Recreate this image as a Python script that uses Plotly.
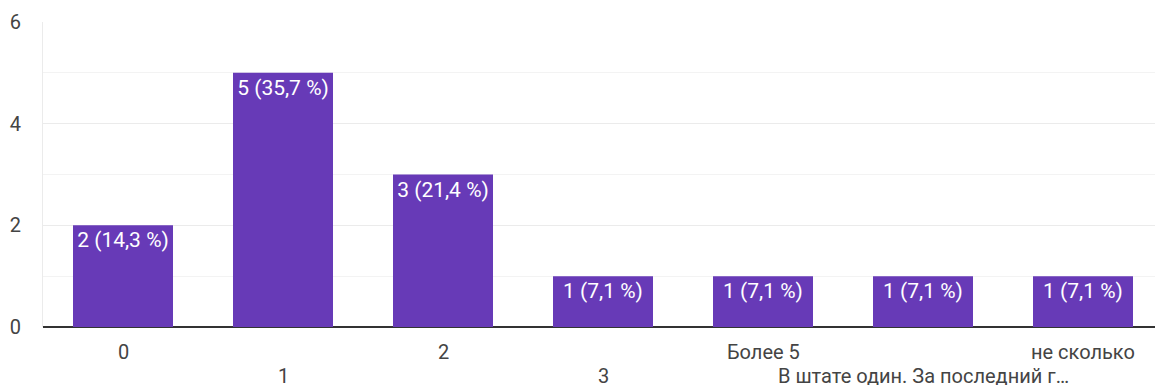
import plotly.graph_objects as go

categorias = ['0', '1', '2', '3', 'Более 5', 'В штате один. За последний г…', 'не сколько']
valores = [2, 5, 3, 1, 1, 1, 1]
porcentajes = ['14,3', '35,7', '21,4', '7,1', '7,1', '7,1', '7,1']
y_ticks = [0, 2, 4, 6]

etiquetas = [f"{v} ({p} %)" for v, p in zip(valores, porcentajes)]
pos = list(range(len(categorias)))

fig = go.Figure()
fig.add_trace(
    go.Bar(
        x=pos,
        y=valores,
        width=0.625,
        marker=dict(color='#673ab7', line=dict(width=0)),
        text=etiquetas,
        textposition='inside',
        insidetextanchor='end',
        textangle=0,
        constraintext='none',
        textfont=dict(color='white', size=21, family='Roboto'),
        hoverinfo='skip',
    )
)

# etiquetas del eje x escalonadas en dos filas
for i, cat in enumerate(categorias):
    fig.add_annotation(
        x=i, y=0, xref='x', yref='y',
        text=cat, showarrow=False,
        yanchor='middle', xanchor='center',
        yshift=-25 if i % 2 == 0 else -49,
        font=dict(size=20, color='#444444', family='Roboto'),
    )

fig.update_layout(
    width=1155,
    height=385,
    template='plotly_white',
    paper_bgcolor='white',
    plot_bgcolor='white',
    showlegend=False,
    margin=dict(l=43, r=0, t=22, b=58),
    font=dict(family='Roboto', size=20, color='#444444'),
    xaxis=dict(
        range=[-0.5, 6.45],
        showticklabels=False,
        showgrid=False,
        zeroline=False,
        ticks='',
    ),
    yaxis=dict(
        range=[0, 6],
        tickvals=y_ticks,
        showgrid=True,
        gridcolor='#ebebeb',
        gridwidth=1,
        minor=dict(dtick=1, showgrid=True, gridcolor='#f3f3f3'),
        zeroline=True,
        zerolinecolor='#333333',
        zerolinewidth=2,
        showline=True,
        linecolor='#ebebeb',
        linewidth=1,
        ticks='',
        ticklabelstandoff=17,
        tickfont=dict(size=20, color='#444444'),
    ),
)

fig.write_html(
    "out.html",
    config={'displayModeBar': False},
    post_script="document.body.style.margin='0';",
)
